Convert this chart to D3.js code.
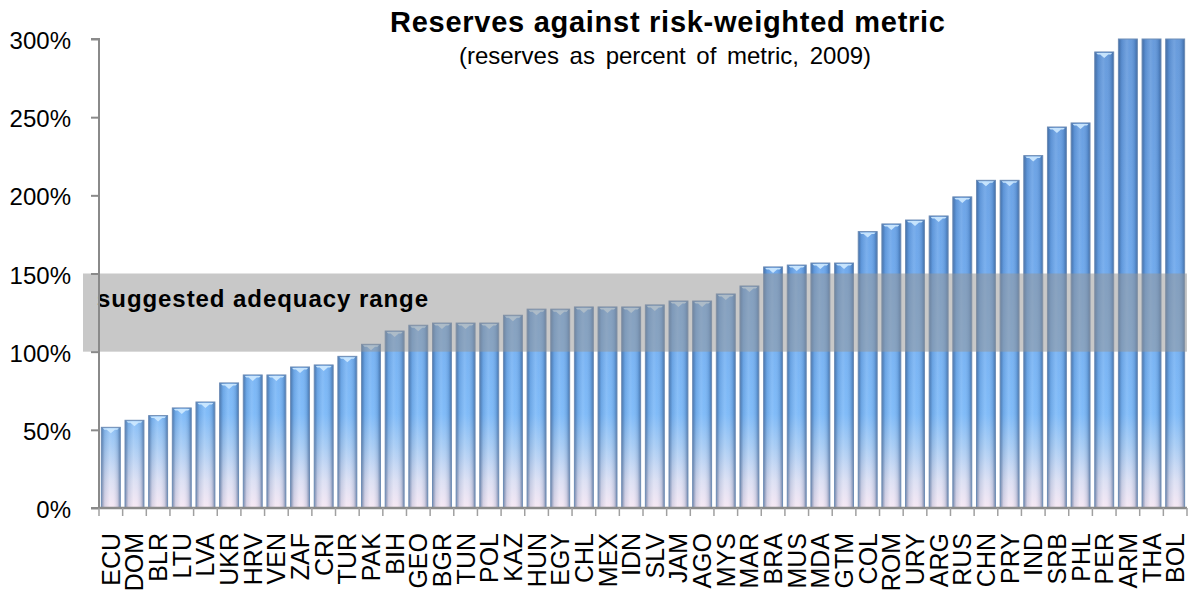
<!DOCTYPE html>
<html>
<head>
<meta charset="utf-8">
<script src="https://cdn.jsdelivr.net/npm/d3@7"></script>
<style>
  html, body { margin: 0; padding: 0; background: #fff; }
  svg { display: block; font-family: "Liberation Sans", Arial, sans-serif; }
</style>
</head>
<body>
<svg id="chart" width="1198" height="592"></svg>
<script>
const countries = ["ECU","DOM","BLR","LTU","LVA","UKR","HRV","VEN","ZAF","CRI","TUR","PAK","BIH","GEO","BGR","TUN","POL","KAZ","HUN","EGY","CHL","MEX","IDN","SLV","JAM","AGO","MYS","MAR","BRA","MUS","MDA","GTM","COL","ROM","URY","ARG","RUS","CHN","PRY","IND","SRB","PHL","PER","ARM","THA","BOL"];
const reserves = [51.6,56.1,59.1,64,67.8,80,85.1,85.1,90.2,91.5,97,104.7,113.2,116.9,118.3,118.3,118.3,123.3,127.2,127.2,128.6,128.6,128.6,129.9,132.4,132.4,136.9,142,154.2,155.4,156.7,156.7,176.8,181.7,184.2,186.8,199,209.6,209.6,225.4,243.7,246.3,291.7,320,340,370];
const yTicks = [0,50,100,150,200,250,300];
const band = [100,150];
const titleText = "Reserves against risk-weighted metric";
const subtitleText = "(reserves as percent of metric, 2009)";
const bandLabel = "suggested adequacy range";

const svg = d3.select("#chart");
const pL = 99, pR = 1187, pT = 39, pB = 508;

const x = d3.scaleBand().domain(countries).range([pL, pR]).paddingInner(0.2).paddingOuter(0.1);
const y = d3.scaleLinear().domain([0, 300]).range([pB, pT]).clamp(true);

const defs = svg.append("defs");
const vg = defs.append("linearGradient").attr("id","vgrad")
  .attr("gradientUnits","userSpaceOnUse").attr("x1",0).attr("x2",0).attr("y1",pT).attr("y2",pB);
[[0,"#6096da"],[0.5,"#6aa6ec"],[0.8,"#7ab8f8"],[0.87,"#a6cbf4"],[0.94,"#d9def3"],[1,"#f6e7f3"]]
  .forEach(([o,c]) => vg.append("stop").attr("offset",o).attr("stop-color",c));
const hg = defs.append("linearGradient").attr("id","hgrad").attr("x1",0).attr("x2",1).attr("y1",0).attr("y2",0);
[[0,"#2c4f80",0.6],[0.18,"#2c4f80",0.14],[0.45,"#ffffff",0.12],[0.6,"#ffffff",0.05],[0.85,"#2c4f80",0.18],[1,"#2c4f80",0.6]]
  .forEach(([o,c,a]) => hg.append("stop").attr("offset",o).attr("stop-color",c).attr("stop-opacity",a));

// bars
const bars = svg.append("g").selectAll("g").data(countries).join("g");
bars.append("rect")
  .attr("x", d => x(d)).attr("width", x.bandwidth())
  .attr("y", (d,i) => y(reserves[i])).attr("height", (d,i) => pB - y(reserves[i]))
  .attr("fill","url(#vgrad)");
bars.append("rect")
  .attr("x", d => x(d)).attr("width", x.bandwidth())
  .attr("y", (d,i) => y(reserves[i])).attr("height", (d,i) => pB - y(reserves[i]))
  .attr("fill","url(#hgrad)").attr("stroke","#6f8db5").attr("stroke-width",1);
// top bevel highlight
bars.filter((d,i) => reserves[i] <= 300).append("path")
  .attr("d", (d,i) => {
    const x0 = x(d), w = x.bandwidth(), t = y(reserves[i]);
    return `M${x0+1.5},${t+1} L${x0+w-1.5},${t+1} L${x0+w-3},${t+2.5} L${x0+w/2+4},${t+2.5} L${x0+w/2},${t+6} L${x0+w/2-4},${t+2.5} L${x0+3},${t+2.5} Z`;
  })
  .attr("fill","#cfeaff").attr("opacity",0.9);

// adequacy band
svg.append("rect")
  .attr("x", 83).attr("width", pR - 83)
  .attr("y", y(band[1])).attr("height", y(band[0]) - y(band[1]))
  .attr("fill","#969696").attr("opacity",0.52);
svg.append("text")
  .attr("x", 97).attr("y", 307)
  .attr("font-size", 24).attr("font-weight","bold").attr("fill","#000")
  .attr("textLength", 331).attr("lengthAdjust","spacing")
  .text(bandLabel);

// y axis
const yAxis = svg.append("g").attr("transform", `translate(${pL},0)`)
  .call(d3.axisLeft(y).tickValues(yTicks).tickSize(8).tickPadding(20).tickFormat(d => d + "%"));
yAxis.select(".domain").attr("stroke","#8a8a8a").attr("stroke-width",2).attr("d", `M-8,${pT}H0V${pB}H-8`);
yAxis.selectAll(".tick line").attr("stroke","#8a8a8a").attr("stroke-width",2);
yAxis.selectAll(".tick text").attr("font-size",24).attr("fill","#000")
  .attr("font-family","'Liberation Sans', Arial, sans-serif").attr("dy","0.4em");

// x axis
const boundaries = countries.map(c => x(c) - x.step()*x.paddingInner()/2);
boundaries.push(pR);
const xg = svg.append("g");
xg.append("line").attr("x1", pL).attr("x2", pR).attr("y1", pB).attr("y2", pB)
  .attr("stroke","#8a8a8a").attr("stroke-width",2.5);
xg.selectAll("line.tk").data(boundaries).join("line").attr("class","tk")
  .attr("x1", d => d).attr("x2", d => d).attr("y1", pB).attr("y2", pB + 8)
  .attr("stroke","#a0a0a0").attr("stroke-width",1.5);
xg.selectAll("text").data(countries).join("text")
  .attr("transform", d => `translate(${x(d) + x.bandwidth()/2},533) rotate(-90)`)
  .attr("text-anchor","end").attr("dy","0.36em")
  .attr("font-size",25).attr("fill","#000")
  .text(d => d);

// titles
svg.append("text").attr("x", 667.5).attr("y", 32).attr("text-anchor","middle")
  .attr("font-size", 29).attr("font-weight","bold").attr("fill","#000")
  .attr("textLength", 555).attr("lengthAdjust","spacing")
  .text(titleText);
svg.append("text").attr("x", 665).attr("y", 64).attr("text-anchor","middle")
  .attr("font-size", 24).attr("fill","#000")
  .attr("word-spacing", 4)
  .text(subtitleText);
</script>
</body>
</html>
